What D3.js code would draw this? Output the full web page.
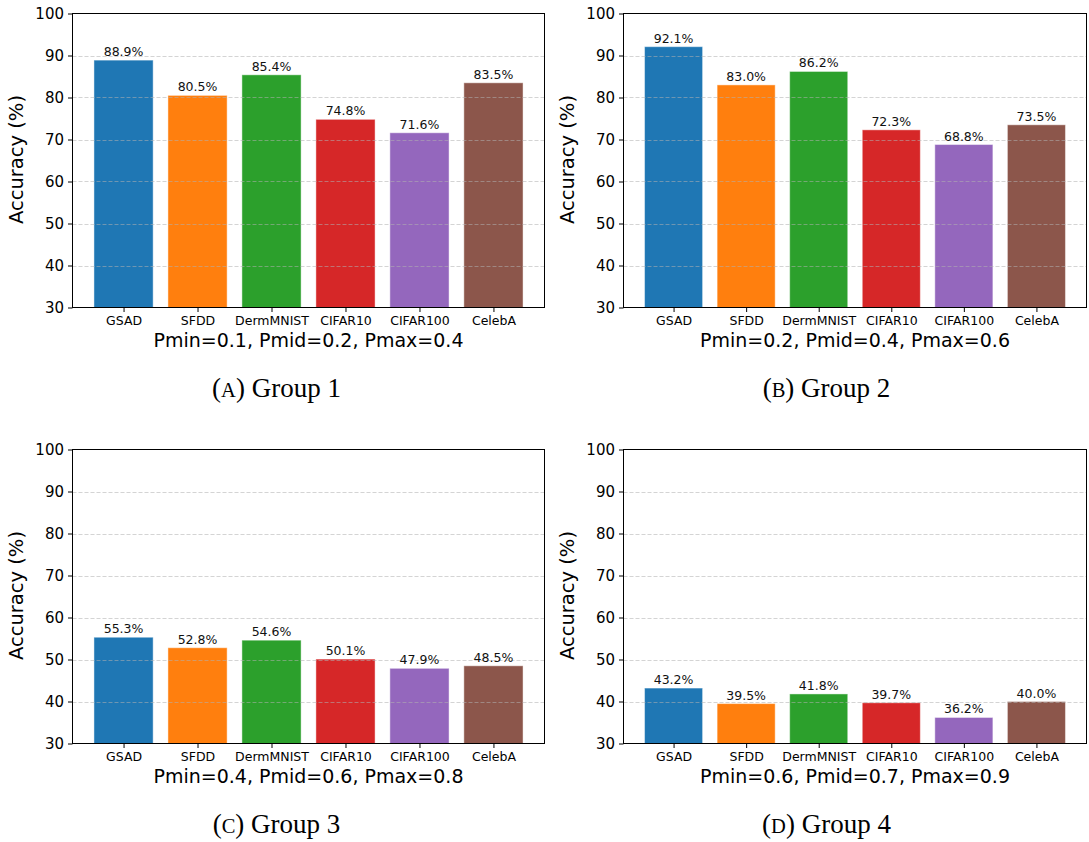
<!DOCTYPE html>
<html>
<head>
<meta charset="utf-8">
<script src="https://cdn.jsdelivr.net/npm/d3@7"></script>
<style>
  html, body { margin: 0; padding: 0; background: #fff; }
  svg { display: block; }
</style>
</head>
<body>
<svg id="chart" width="1089" height="842"></svg>
<script>
// Dataset names shared by every panel
const categories = ["GSAD", "SFDD", "DermMNIST", "CIFAR10", "CIFAR100", "CelebA"];
const barColors = ["#1f77b4", "#ff7f0e", "#2ca02c", "#d62728", "#9467bd", "#8c564b"];

// Accuracy (%) per group
const group1 = [88.9, 80.5, 85.4, 74.8, 71.6, 83.5];
const group2 = [92.1, 83.0, 86.2, 72.3, 68.8, 73.5];
const group3 = [55.3, 52.8, 54.6, 50.1, 47.9, 48.5];
const group4 = [43.2, 39.5, 41.8, 39.7, 36.2, 40.0];

const xLabels = [
  "Pmin=0.1, Pmid=0.2, Pmax=0.4",
  "Pmin=0.2, Pmid=0.4, Pmax=0.6",
  "Pmin=0.4, Pmid=0.6, Pmax=0.8",
  "Pmin=0.6, Pmid=0.7, Pmax=0.9"
];
const captionLetters = ["A", "B", "C", "D"];
const captionTitles = ["Group 1", "Group 2", "Group 3", "Group 4"];
const yTicks = [30, 40, 50, 60, 70, 80, 90, 100];

const panels = [
  { values: group1, left: 72.5, right: 544.5, top: 13.5, bottom: 307.5, capShift: -32 },
  { values: group2, left: 623.5, right: 1086.5, top: 13.5, bottom: 307.5, capShift: -28.5 },
  { values: group3, left: 72.5, right: 544.5, top: 449.5, bottom: 743.5, capShift: -32 },
  { values: group4, left: 623.5, right: 1086.5, top: 449.5, bottom: 743.5, capShift: -28.5 }
];

const svg = d3.select("#chart");
const sans = "DejaVu Sans, sans-serif";
const serif = "Liberation Serif, Times New Roman, serif";

panels.forEach((p, i) => {
  const g = svg.append("g");

  // Bar positions follow matplotlib's default: width 0.8, 5% margins
  const n = categories.length;
  const pad = 0.05 * (n - 1 + 0.8);
  const x = d3.scaleLinear()
    .domain([-0.4 - pad, n - 1 + 0.4 + pad])
    .range([p.left, p.right]);
  const y = d3.scaleLinear().domain([30, 100]).range([p.bottom, p.top]);

  // Bars
  g.selectAll("rect.bar")
    .data(p.values)
    .join("rect")
    .attr("class", "bar")
    .attr("x", (d, j) => x(j - 0.4))
    .attr("width", x(0.8) - x(0))
    .attr("y", d => y(d))
    .attr("height", d => y(30) - y(d))
    .attr("fill", (d, j) => barColors[j])
    .attr("stroke", "#ffffff")
    .attr("stroke-opacity", 0.45)
    .attr("stroke-width", 1);

  // Dashed grid lines drawn above the bars
  g.selectAll("line.grid")
    .data(yTicks.filter(t => t > 30 && t < 100))
    .join("line")
    .attr("class", "grid")
    .attr("x1", p.left).attr("x2", p.right)
    .attr("y1", d => Math.round(y(d)) + 0.5)
    .attr("y2", d => Math.round(y(d)) + 0.5)
    .attr("stroke", "#b0b0b0")
    .attr("stroke-opacity", 0.55)
    .attr("stroke-width", 1)
    .attr("stroke-dasharray", "4,2");

  // Value labels
  g.selectAll("text.val")
    .data(p.values)
    .join("text")
    .attr("class", "val")
    .attr("x", (d, j) => x(j))
    .attr("y", d => y(d) - 4)
    .attr("text-anchor", "middle")
    .attr("font-family", sans)
    .attr("font-size", 12.5)
    .attr("fill", "#111")
    .text(d => d.toFixed(1) + "%");

  // Frame
  g.append("rect")
    .attr("x", p.left).attr("y", p.top)
    .attr("width", p.right - p.left).attr("height", p.bottom - p.top)
    .attr("fill", "none").attr("stroke", "#000").attr("stroke-width", 1);

  // Y axis
  const yAxis = d3.axisLeft(y).tickValues(yTicks).tickSize(4.5).tickPadding(4);
  const ya = g.append("g").attr("transform", `translate(${p.left},0)`).call(yAxis);
  ya.select(".domain").remove();
  ya.selectAll("text").attr("font-family", sans).attr("font-size", 15).attr("fill", "#000");

  // X axis
  const xAxis = d3.axisBottom(x)
    .tickValues(d3.range(n))
    .tickFormat(j => categories[j])
    .tickSize(4.5).tickPadding(4);
  const xa = g.append("g").attr("transform", `translate(0,${p.bottom})`).call(xAxis);
  xa.select(".domain").remove();
  xa.selectAll("text").attr("font-family", sans).attr("font-size", 12.5).attr("fill", "#000");

  // Axis titles
  const midX = (p.left + p.right) / 2;
  const midY = (p.top + p.bottom) / 2;
  g.append("text")
    .attr("transform", `translate(${p.left - 50},${midY - 1}) rotate(-90)`)
    .attr("text-anchor", "middle")
    .attr("font-family", sans)
    .attr("font-size", 19.5)
    .text("Accuracy (%)");
  g.append("text")
    .attr("x", midX)
    .attr("y", p.bottom + 39)
    .attr("text-anchor", "middle")
    .attr("font-family", sans)
    .attr("font-size", 19)
    .text(xLabels[i]);

  // Sub-figure caption with small-caps letter
  const cap = g.append("text")
    .attr("x", midX + p.capShift)
    .attr("y", p.bottom + 89)
    .attr("text-anchor", "middle")
    .attr("font-family", serif)
    .attr("font-size", 27)
    .attr("fill", "#000");
  cap.append("tspan").text("(");
  cap.append("tspan").attr("font-size", 20.5).text(captionLetters[i]);
  cap.append("tspan").text(") " + captionTitles[i]);
});
</script>
</body>
</html>
